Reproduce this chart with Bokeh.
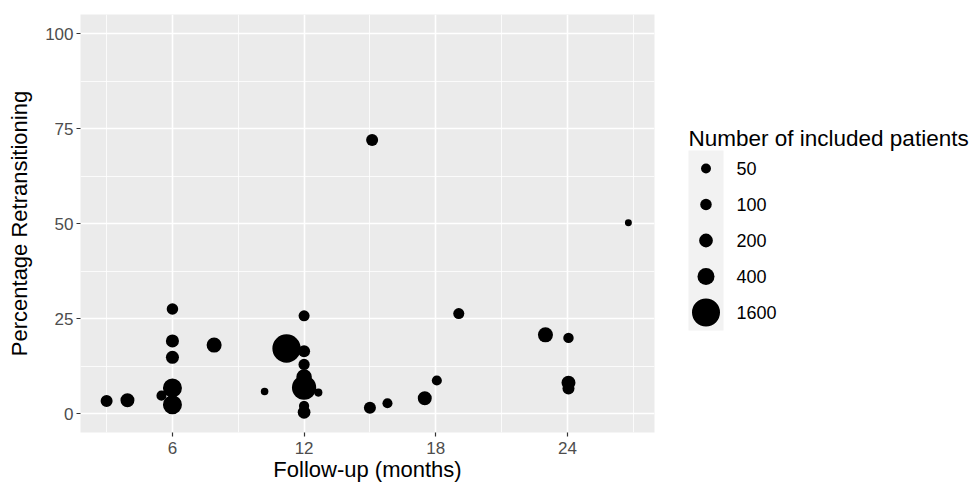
import numpy as np
from bokeh.plotting import figure
from bokeh.models import Range1d, FixedTicker, ColumnDataSource
from bokeh.layouts import row
from bokeh.embed import file_html
from bokeh.resources import INLINE
from bokeh.core.properties import value

# ---- data ----
follow_up = [3.0, 3.95, 6.0, 6.0, 6.0, 6.0, 5.5, 6.0, 7.9, 11.2,
             12.0, 12.0, 12.0, 12.0, 12.0, 12.65, 12.0, 12.0, 10.2, 15.0,
             15.8, 17.5, 18.05, 15.1, 19.05, 23.0, 24.05, 24.05, 24.05, 26.78]
pct_retrans = [3.3, 3.5, 27.5, 19.1, 14.8, 6.7, 4.7, 2.3, 18.0, 17.1,
               25.7, 16.4, 12.9, 9.6, 6.8, 5.5, 2.0, 0.3, 5.8, 1.5,
               2.7, 4.0, 8.7, 72.0, 26.3, 20.7, 19.9, 8.1, 6.6, 50.2]
n_patients = [120, 210, 100, 165, 165, 560, 55, 560, 270, 1650,
              85, 120, 90, 300, 1100, 15, 60, 150, 8, 120,
              55, 210, 55, 120, 85, 270, 65, 210, 120, 3]

legend_breaks = [50, 100, 200, 400, 1600]
x_ticks = [6, 12, 18, 24]
x_minor = [3, 9, 15, 21, 27]
y_ticks = [0, 25, 50, 75, 100]
y_minor = [12.5, 37.5, 62.5, 87.5]

FONT = "Liberation Sans"
W, H = 971, 484
MAIN_W = 662
TOP, BOTTOM = 14, 52


def size_px(n):
    # size scale: marker diameter (px) from number of patients
    return 6 + 0.55 * np.sqrt(np.asarray(n, dtype=float))


src = ColumnDataSource(dict(x=follow_up, y=pct_retrans, n=n_patients,
                            size=size_px(n_patients)))

p = figure(width=MAIN_W, height=H, x_range=Range1d(1.81, 27.97),
           y_range=Range1d(-5, 105), output_backend="svg",
           toolbar_location=None, min_border_left=80, min_border_right=8,
           min_border_top=TOP, min_border_bottom=BOTTOM)
p.background_fill_color = "#EBEBEB"
p.border_fill_color = "white"
p.outline_line_color = None

p.xaxis.ticker = FixedTicker(ticks=x_ticks, minor_ticks=x_minor)
p.yaxis.ticker = FixedTicker(ticks=y_ticks, minor_ticks=y_minor)
p.grid.grid_line_color = "white"
p.grid.grid_line_width = 1.6
p.grid.minor_grid_line_color = "white"
p.grid.minor_grid_line_width = 0.8

p.axis.axis_line_color = None
p.axis.major_tick_line_color = "#333333"
p.axis.major_tick_line_width = 1.2
p.axis.major_tick_in = 0
p.axis.major_tick_out = 4
p.axis.minor_tick_line_color = None
p.axis.major_label_text_font = FONT
p.axis.major_label_text_font_size = "17px"
p.axis.major_label_text_color = "#4D4D4D"
p.axis.axis_label_text_font = FONT
p.axis.axis_label_text_font_size = "22px"
p.axis.axis_label_text_font_style = "normal"
p.axis.axis_label_text_color = "black"
p.xaxis.major_label_standoff = 5
p.xaxis.axis_label_standoff = 0
p.yaxis.major_label_standoff = 3
p.yaxis.axis_label_standoff = 10
p.xaxis.axis_label = "Follow-up (months)"
p.yaxis.axis_label = "Percentage Retransitioning"

p.scatter(x="x", y="y", size="size", source=src, fill_color="black",
          line_color=None)

# ---- legend panel (its frame lines up with the main frame vertically) ----
LW = W - MAIN_W
leg = figure(width=LW, height=H, x_range=Range1d(0, LW),
             y_range=Range1d(H - BOTTOM, TOP),
             output_backend="svg", toolbar_location=None,
             x_axis_location=None, y_axis_location=None,
             min_border_left=0, min_border_right=0,
             min_border_top=TOP, min_border_bottom=BOTTOM)
leg.grid.visible = False
leg.outline_line_color = None
leg.background_fill_color = "white"
leg.border_fill_color = "white"

key_left, key_w, key_top, key_h = 26, 35, 150, 36
key_y = [key_top + key_h * (i + 0.5) for i in range(len(legend_breaks))]
key_x = [key_left + key_w / 2] * len(legend_breaks)

leg.quad(left=[key_left], right=[key_left + key_w], top=[key_top],
         bottom=[key_top + key_h * len(legend_breaks)],
         fill_color="#F2F2F2", line_color=None)
leg.scatter(x=key_x, y=key_y, size=size_px(legend_breaks), fill_color="black",
            line_color=None)
leg.text(x=[key_left + key_w + 13] * len(legend_breaks), y=key_y,
         text=[str(b) for b in legend_breaks], text_baseline="middle",
         text_align="left", text_font=value(FONT), text_font_size="18px",
         text_color="black")
leg.text(x=[key_left], y=[138], text=["Number of included patients"],
         text_baseline="alphabetic", text_align="left", text_font=value(FONT),
         text_font_size="22.5px", text_color="black")

layout = row(p, leg)
open("out.html", "w").write(file_html(layout, INLINE))
